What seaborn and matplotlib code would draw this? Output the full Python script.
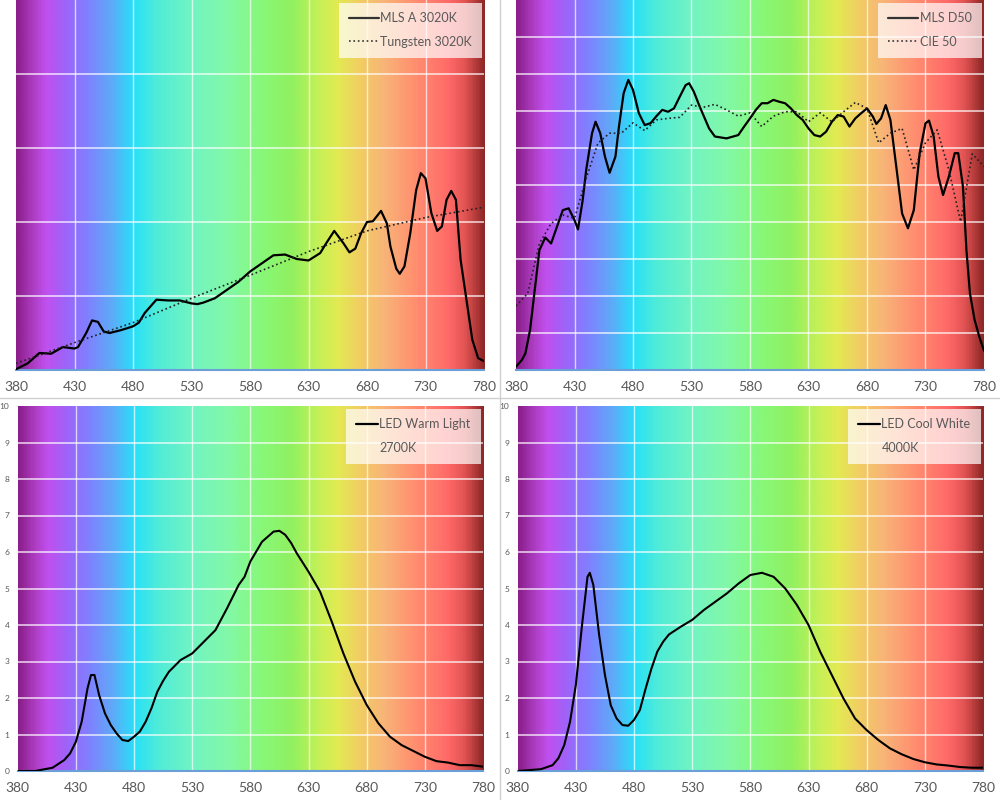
import numpy as np
import pandas as pd
import seaborn as sns
import matplotlib.pyplot as plt
from matplotlib.colors import LinearSegmentedColormap
from matplotlib.lines import Line2D

# MLS A 3020K (solid) and tungsten reference (dotted)
mlsA_wl = [380, 390, 400, 410, 420, 430, 433, 440, 445, 450, 455, 460, 470, 480, 485, 490,
           500, 510, 520, 530, 535, 540, 550, 560, 570, 580, 590, 600, 610, 620, 630, 640,
           645, 652, 660, 665, 670, 675, 680, 685, 692, 697, 700, 705, 708, 712, 717, 722,
           726, 730, 735, 740, 744, 748, 752, 756, 760, 765, 770, 775, 780]
mlsA_val = [0.01, 0.09, 0.23, 0.22, 0.31, 0.29, 0.31, 0.50, 0.67, 0.65, 0.52, 0.50, 0.54, 0.59, 0.64, 0.77,
            0.95, 0.94, 0.94, 0.90, 0.89, 0.91, 0.97, 1.08, 1.19, 1.33, 1.44, 1.55, 1.56, 1.50, 1.48, 1.58,
            1.71, 1.88, 1.71, 1.59, 1.64, 1.85, 2.00, 2.01, 2.15, 1.98, 1.67, 1.37, 1.30, 1.40, 1.85, 2.43,
            2.66, 2.59, 2.12, 1.88, 1.94, 2.30, 2.42, 2.30, 1.49, 0.95, 0.41, 0.16, 0.12]
tung_wl = [380, 400, 430, 480, 530, 580, 630, 680, 730, 780]
tung_val = [0.09, 0.20, 0.37, 0.64, 0.97, 1.28, 1.60, 1.88, 2.06, 2.20]

# MLS D50 (solid) and CIE 50 (dotted)
d50_wl = [380, 385, 388, 392, 395, 398, 400, 405, 410, 415, 420, 425, 430, 433, 437, 440,
          445, 448, 452, 456, 460, 465, 468, 472, 476, 480, 485, 490, 495, 500, 505, 510,
          515, 520, 525, 528, 532, 537, 545, 550, 560, 570, 575, 580, 585, 590, 595, 600,
          605, 610, 615, 620, 625, 630, 635, 640, 645, 650, 655, 660, 665, 670, 675, 680,
          685, 688, 692, 696, 700, 705, 710, 715, 720, 725, 730, 733, 737, 741, 745, 750,
          755, 758, 762, 765, 768, 772, 776, 780]
d50_val = [0.09, 0.27, 0.45, 1.08, 1.89, 2.70, 3.24, 3.58, 3.42, 3.87, 4.32, 4.37, 4.05, 3.80, 4.59, 5.41,
           6.40, 6.71, 6.40, 5.77, 5.33, 5.77, 6.58, 7.48, 7.84, 7.57, 6.94, 6.62, 6.67, 6.86, 7.03, 6.98,
           7.07, 7.39, 7.70, 7.75, 7.52, 7.12, 6.53, 6.31, 6.26, 6.35, 6.58, 6.80, 7.03, 7.21, 7.21, 7.30,
           7.25, 7.21, 7.07, 6.89, 6.76, 6.53, 6.35, 6.31, 6.44, 6.71, 6.89, 6.85, 6.58, 6.80, 6.94, 7.07,
           6.85, 6.65, 6.80, 7.16, 6.76, 5.50, 4.23, 3.83, 4.32, 5.86, 6.67, 6.74, 6.31, 5.23, 4.73, 5.23,
           5.86, 5.86, 4.96, 3.24, 2.07, 1.35, 0.90, 0.52]
cie_wl = list(range(380, 781, 10))
cie_val = [1.73, 2.07, 3.42, 3.96, 4.19, 4.10, 5.18, 6.13, 6.40, 6.40, 6.68, 6.47, 6.76, 6.80, 6.83,
           7.16, 7.10, 7.18, 7.03, 6.86, 6.95, 6.58, 6.86, 6.98, 6.98, 6.71, 6.95, 6.71, 6.98, 7.23,
           7.07, 6.14, 6.40, 6.53, 5.41, 6.14, 6.49, 5.41, 4.01, 5.84, 5.50]

# LED warm light 2700K
warm_wl = [380, 395, 400, 410, 420, 425, 430, 435, 440, 443, 446, 450, 455, 460, 465, 470, 475,
           480, 485, 490, 495, 500, 505, 510, 520, 530, 540, 550, 560, 570, 575, 580, 590, 600, 605,
           610, 615, 620, 630, 640, 650, 660, 670, 680, 690, 700, 710, 720, 730, 740, 750, 760, 770, 780]
warm_val = [0.0, 0.0, 0.03, 0.09, 0.30, 0.48, 0.80, 1.35, 2.26, 2.63, 2.63, 2.08, 1.58, 1.26, 1.03, 0.85, 0.82,
            0.94, 1.08, 1.35, 1.72, 2.17, 2.47, 2.72, 3.04, 3.22, 3.54, 3.86, 4.46, 5.10, 5.32, 5.74, 6.28, 6.56, 6.58,
            6.47, 6.25, 5.96, 5.46, 4.91, 4.09, 3.22, 2.45, 1.81, 1.31, 0.94, 0.71, 0.55, 0.39, 0.27, 0.23, 0.16, 0.16, 0.12]

# LED cool white 4000K
cool_wl = [380, 400, 410, 415, 420, 425, 430, 435, 440, 442, 445, 450, 455, 460, 465, 470, 475,
           480, 485, 490, 495, 500, 505, 510, 520, 530, 540, 550, 560, 570, 580, 590, 600, 610,
           620, 630, 640, 650, 660, 670, 680, 690, 700, 710, 720, 730, 740, 750, 760, 770, 780]
cool_val = [0.0, 0.05, 0.16, 0.35, 0.71, 1.35, 2.36, 3.91, 5.32, 5.43, 5.10, 3.73, 2.63, 1.80, 1.44, 1.26, 1.24,
            1.40, 1.67, 2.26, 2.81, 3.27, 3.54, 3.74, 3.95, 4.14, 4.41, 4.64, 4.87, 5.14, 5.37, 5.43, 5.32, 5.00,
            4.55, 4.00, 3.27, 2.63, 1.99, 1.44, 1.12, 0.85, 0.62, 0.46, 0.33, 0.24, 0.18, 0.15, 0.11, 0.09, 0.09]

xticks = list(range(380, 781, 50))

# spectrum background colours
spec_stops = [(380, '#8c1f8c'), (395, '#b040c8'), (405, '#c050ee'), (420, '#a062f8'),
              (440, '#8080ff'), (460, '#60a8f8'), (480, '#28e0f8'), (500, '#50ecd8'),
              (530, '#72f4c2'), (560, '#82f8a8'), (590, '#88f878'), (615, '#90f060'),
              (640, '#c8f056'), (655, '#e2ea52'), (675, '#f2cc64'), (695, '#f8b478'),
              (720, '#ff9070'), (750, '#ff6a68'), (765, '#e05252'), (780, '#902828')]
spec_cmap = LinearSegmentedColormap.from_list(
    'spec', [((w - 380) / 400, c) for w, c in spec_stops])

sns.set_theme(style='white')
plt.rcParams['font.family'] = ['Lato', 'DejaVu Sans']

fig = plt.figure(figsize=(10, 8), dpi=100)
fig.patch.set_facecolor('white')

grey = '#595959'


def setup(ax, ymax, show_y):
    grad = np.linspace(0, 1, 400).reshape(1, -1)
    ax.imshow(grad, cmap=spec_cmap, aspect='auto', extent=[380, 780, 0, ymax],
              zorder=0, interpolation='bilinear')
    ax.set_xlim(380, 780)
    ax.set_ylim(0, ymax)
    ax.set_xticks(xticks)
    ax.set_yticks(range(0, ymax + 1))
    for x in xticks[1:-1]:
        ax.axvline(x, color='white', lw=1, alpha=0.7, zorder=1)
    for y in range(1, ymax):
        ax.axhline(y, color='white', lw=1.3, alpha=0.7, zorder=1)
    for s in ['top', 'right', 'left']:
        ax.spines[s].set_visible(False)
    ax.spines['bottom'].set_color('#6a9fd8')
    ax.spines['bottom'].set_linewidth(1.5)
    ax.tick_params(axis='x', length=0, labelsize=10, colors=grey, pad=8)
    if show_y:
        ax.tick_params(axis='y', length=0, labelsize=6, colors=grey, pad=6)
    else:
        ax.set_yticklabels([])
        ax.tick_params(axis='y', length=0)
    ax.set_xlabel('')
    ax.set_ylabel('')


def legend(ax, handles, labels, hl):
    leg = ax.legend(handles, labels, loc='upper right', frameon=True, fancybox=False,
                    fontsize=9, labelcolor=grey, handlelength=hl, handletextpad=0.1,
                    borderpad=0.8, labelspacing=0.9, borderaxespad=0.2)
    leg.get_frame().set_facecolor('white')
    leg.get_frame().set_alpha(0.7)
    leg.get_frame().set_edgecolor('none')
    leg.set_zorder(5)


ax1 = fig.add_axes([0.016, 0.5375, 0.468, 0.4625])
setup(ax1, 5, False)
sns.lineplot(x=mlsA_wl, y=mlsA_val, ax=ax1, color='black', lw=1.6, zorder=3)
sns.lineplot(x=tung_wl, y=tung_val, ax=ax1, color='#222222', lw=1.2, ls=':', zorder=3)
legend(ax1, [Line2D([], [], color='#333333', lw=1.6),
             Line2D([], [], color='#333333', lw=1.2, ls=':')],
       ['MLS A 3020K', 'Tungsten 3020K'], 2.4)

ax2 = fig.add_axes([0.516, 0.5375, 0.468, 0.4625])
setup(ax2, 10, False)
sns.lineplot(x=d50_wl, y=d50_val, ax=ax2, color='black', lw=1.6, zorder=3)
sns.lineplot(x=cie_wl, y=cie_val, ax=ax2, color='#222222', lw=1.2, ls=':', zorder=3)
legend(ax2, [Line2D([], [], color='#333333', lw=1.6),
             Line2D([], [], color='#333333', lw=1.2, ls=':')],
       ['MLS D50', 'CIE 50'], 2.4)

ax3 = fig.add_axes([0.0177, 0.03625, 0.4653, 0.45625])
setup(ax3, 10, True)
sns.lineplot(x=warm_wl, y=warm_val, ax=ax3, color='black', lw=1.5, zorder=3)
legend(ax3, [Line2D([], [], color='black', lw=1.6), Line2D([], [], color='none')],
       ['LED Warm Light', '2700K'], 1.8)

ax4 = fig.add_axes([0.5177, 0.03625, 0.4653, 0.45625])
setup(ax4, 10, True)
sns.lineplot(x=cool_wl, y=cool_val, ax=ax4, color='black', lw=1.5, zorder=3)
legend(ax4, [Line2D([], [], color='black', lw=1.6), Line2D([], [], color='none')],
       ['LED Cool White', '4000K'], 1.8)

# thin separators between the four pictures
fig.add_artist(Line2D([0.5, 0.5], [0, 1], color='#d0d0d0', lw=1))
fig.add_artist(Line2D([0, 1], [0.503, 0.503], color='#d0d0d0', lw=1))

fig.savefig('out.png', dpi=100)
